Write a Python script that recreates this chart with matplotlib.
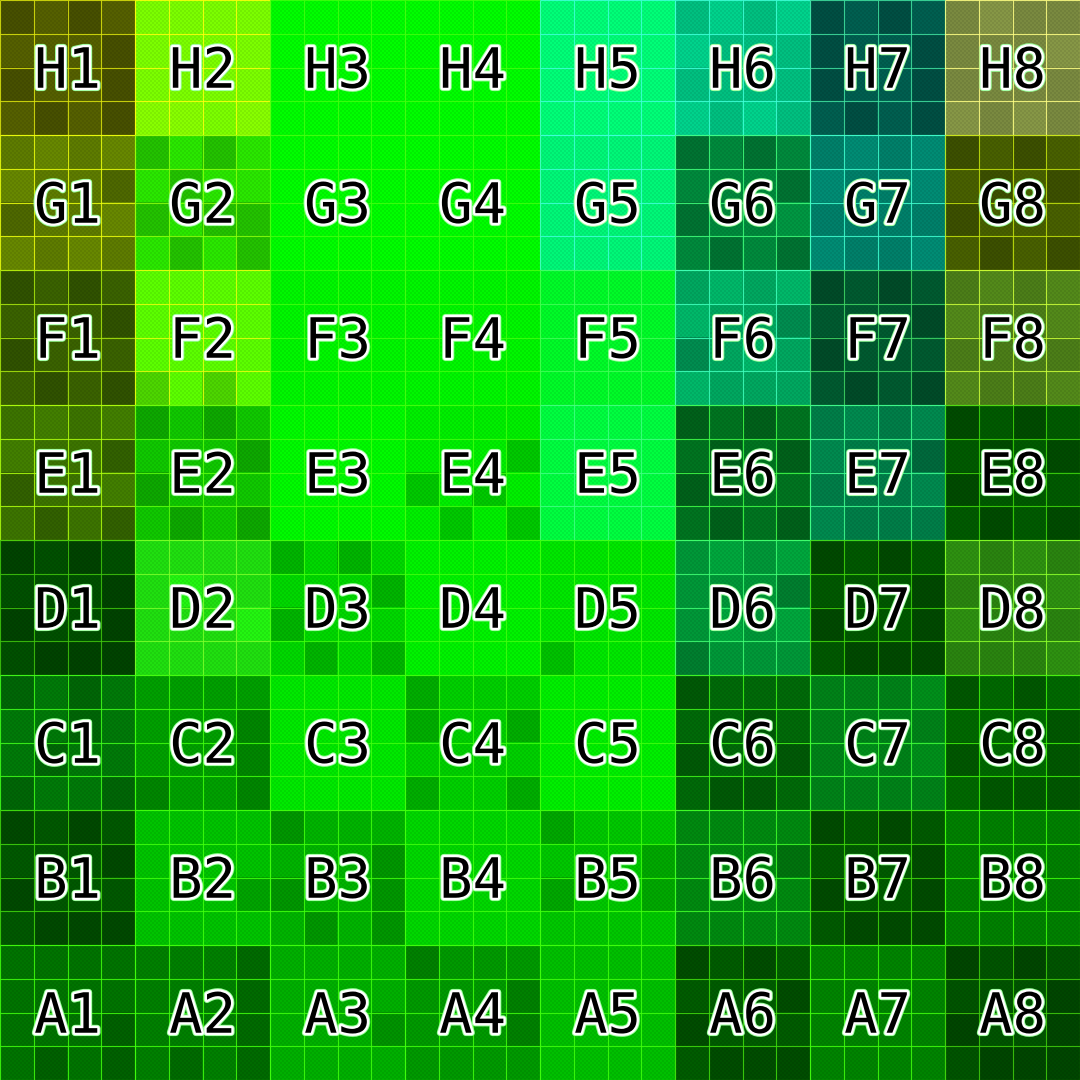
import numpy as np
import matplotlib
matplotlib.use("Agg")
import matplotlib.pyplot as plt
import matplotlib.colors as mcolors
import matplotlib.patheffects as pe
from matplotlib.collections import LineCollection

# grid rows from top (H) to bottom (A), columns 1..8
rows = ["H", "G", "F", "E", "D", "C", "B", "A"]
cols = ["1", "2", "3", "4", "5", "6", "7", "8"]

# base colour of every cell, same order as rows / cols
base_colors = [
    ["#556000", "#7cff00", "#00ff00", "#00ff00", "#00ff78", "#00c080", "#005f50", "#7a8a40"],
    ["#5e7c00", "#2ae800", "#00ff00", "#00ff00", "#00f878", "#008a3c", "#00806a", "#486000"],
    ["#3a6200", "#5cff00", "#00f800", "#00f800", "#00fc28", "#00a860", "#005a30", "#4c7e18"],
    ["#3c7400", "#10c800", "#00fc00", "#00f000", "#00ff40", "#007420", "#007e48", "#005a00"],
    ["#005000", "#20e010", "#00d800", "#00f400", "#00e800", "#009838", "#005800", "#2a8410"],
    ["#007a08", "#00a000", "#00ea00", "#00d000", "#00f000", "#006a08", "#008218", "#006800"],
    ["#005800", "#00c400", "#00b400", "#00d800", "#00c800", "#008a10", "#005a00", "#008000"],
    ["#007400", "#008000", "#00b000", "#009a00", "#00c000", "#005c00", "#008400", "#005400"],
]

# 4x4 sub-tile shading inside each cell: d = darker, m = base, l = lighter
shades = [
    ["dmdm mmmd dmmd mdmd", "mmmm mmmm mmmm llml", "mmmm mmmm mmmm mmmm", "mmmm mmmm mmmm mmmm",
     "mmmm mmmm mmmm mmmm", "mlml lmmm mmmm lmlm", "dmdm dmmd dmmd mdmd", "mlmm mmml mmmm lmlm"],
    ["mlml lmmd dmml lmlm", "dmdm mdmm dmdd mdmd", "mmmm mmmm mmmm mmmm", "mmmm mmmm mmmm mmmm",
     "mmmm mmmm mmmm mmmm", "dmdm mmmd dmml mdmd", "mlml lmml mmmm lmml", "dmdm mdmd dmmm mdmd"],
    ["dmdm mmmd dmmm mdmd", "mmmm mmmm mmmm dmdm", "mmmm mmmm mmmm mmmm", "mmmm mmmm mmmm mmmm",
     "mmmm mmmm mmmm mmmm", "mlml lmmd dmlm lmmm", "dmdm mmmd dmmm mdmd", "mlml lmml mmmm lmml"],
    ["mlml lmmd dmml mdmd", "dmdm mmmd dmmm mdmd", "mmmm mmmm mmmm mmmm", "mmmm mmmd dmdm mdmd",
     "mmmm mmmm mmmm mmmm", "dmdm mdmd dmmm mdmd", "mlml lmmd mmml lmmm", "dmdm mdmd dmmm mdmd"],
    ["dmdm mmmd dmmd mddd", "mmmm mlmm mmml mmmm", "dmdm mmmd dmmm mdmd", "mmmm mmmm mmmm mmmm",
     "mmmm mmmm mmmm dmmm", "mlml mmmd mlml dmmm", "dmdm mmmd dmmd mddd", "lmlm mmml lmmm mmml"],
    ["dmdm mmdm mdmm dmmd", "mmmm mmmd mmmd dmmd", "mmmm mmmm mmmm mmmm", "dmmm dmmd mmmm dmmd",
     "mmmm mmmm mmmm mmmm", "dmmm mmdm dmmd mddm", "mmml mmmm mlml mmmm", "dmdm mmmd dmmd mddd"],
    ["dmdm mmmd dmmm mddd", "mmmm mmmm mmmd mmmm", "dmmm mmmd dmmd mdmd", "mmmm mmmm mmmm mmmm",
     "dmmm mmmd dmmd mmmm", "mmmm mmmd mmmm mmmm", "dmdm mmmd dmmd mddd", "mmmm mmmm mmmm mmmm"],
    ["mmmm mmmm mmmd mdmd", "mmmd mmmd mmmd mdmd", "mmmm mmmm mmmd mmmm", "dmmm mmmd mmmd mmmm",
     "mmmm mmmm mmmm mmmm", "dmdm mmmd dmmm mddd", "mmmm mmmm mmmm mmmm", "dmdm mmmd dmmd mddd"],
]

shade_factor = {"d": 0.84, "m": 1.0, "l": 1.1}

n = len(rows)
sub = 4
img = np.zeros((n * sub, n * sub, 3))
segs = []
seg_colors = []
for r in range(n):
    for c in range(n):
        rgb = np.array(mcolors.to_rgb(base_colors[r][c]))
        pattern = shades[r][c].split()
        for i in range(sub):
            for j in range(sub):
                f = shade_factor[pattern[i][j]]
                img[r * sub + i, c * sub + j] = np.clip(rgb * f, 0, 1)
        # grid line colour: a brighter, slightly yellow tint of the cell
        line = np.clip(np.clip(rgb * 2.3, 0, 1) * 0.8 + np.array([0.25, 0.2, 0.05]), 0, 1)
        x0 = c * sub
        y0 = (n - 1 - r) * sub
        for k in range(sub + 1):
            segs.append([(x0 + k, y0), (x0 + k, y0 + sub)])
            seg_colors.append(line)
            segs.append([(x0, y0 + k), (x0 + sub, y0 + k)])
            seg_colors.append(line)

fig = plt.figure(figsize=(10.8, 10.8), dpi=100)
ax = fig.add_axes([0, 0, 1, 1])
ax.imshow(img, extent=(0, n * sub, 0, n * sub), origin="upper", interpolation="nearest")

# faint checker dither laid over the tiles (2 px squares)
px = 540
checker = (np.add.outer(np.arange(px), np.arange(px)) % 2).astype(float)
overlay = np.zeros((px, px, 4))
overlay[..., 3] = checker * 0.07
ax.imshow(overlay, extent=(0, n * sub, 0, n * sub), origin="upper", interpolation="nearest")

ax.add_collection(LineCollection(segs, colors=seg_colors, linewidths=0.8, alpha=0.85))

for r in range(n):
    for c in range(n):
        label = rows[r] + cols[c]
        cx = c * sub + sub / 2
        cy = (n - 1 - r) * sub + sub / 2
        ax.text(cx, cy - 0.6, label, ha="center", va="baseline",
                fontsize=40, family="DejaVu Sans Mono", color="black",
                path_effects=[pe.Stroke(linewidth=4.8, foreground="#9cff9c"),
                              pe.Stroke(linewidth=3.4, foreground="white"),
                              pe.Normal()])

ax.set_xlim(0, n * sub)
ax.set_ylim(0, n * sub)
ax.axis("off")
fig.savefig("out.png", dpi=100)
